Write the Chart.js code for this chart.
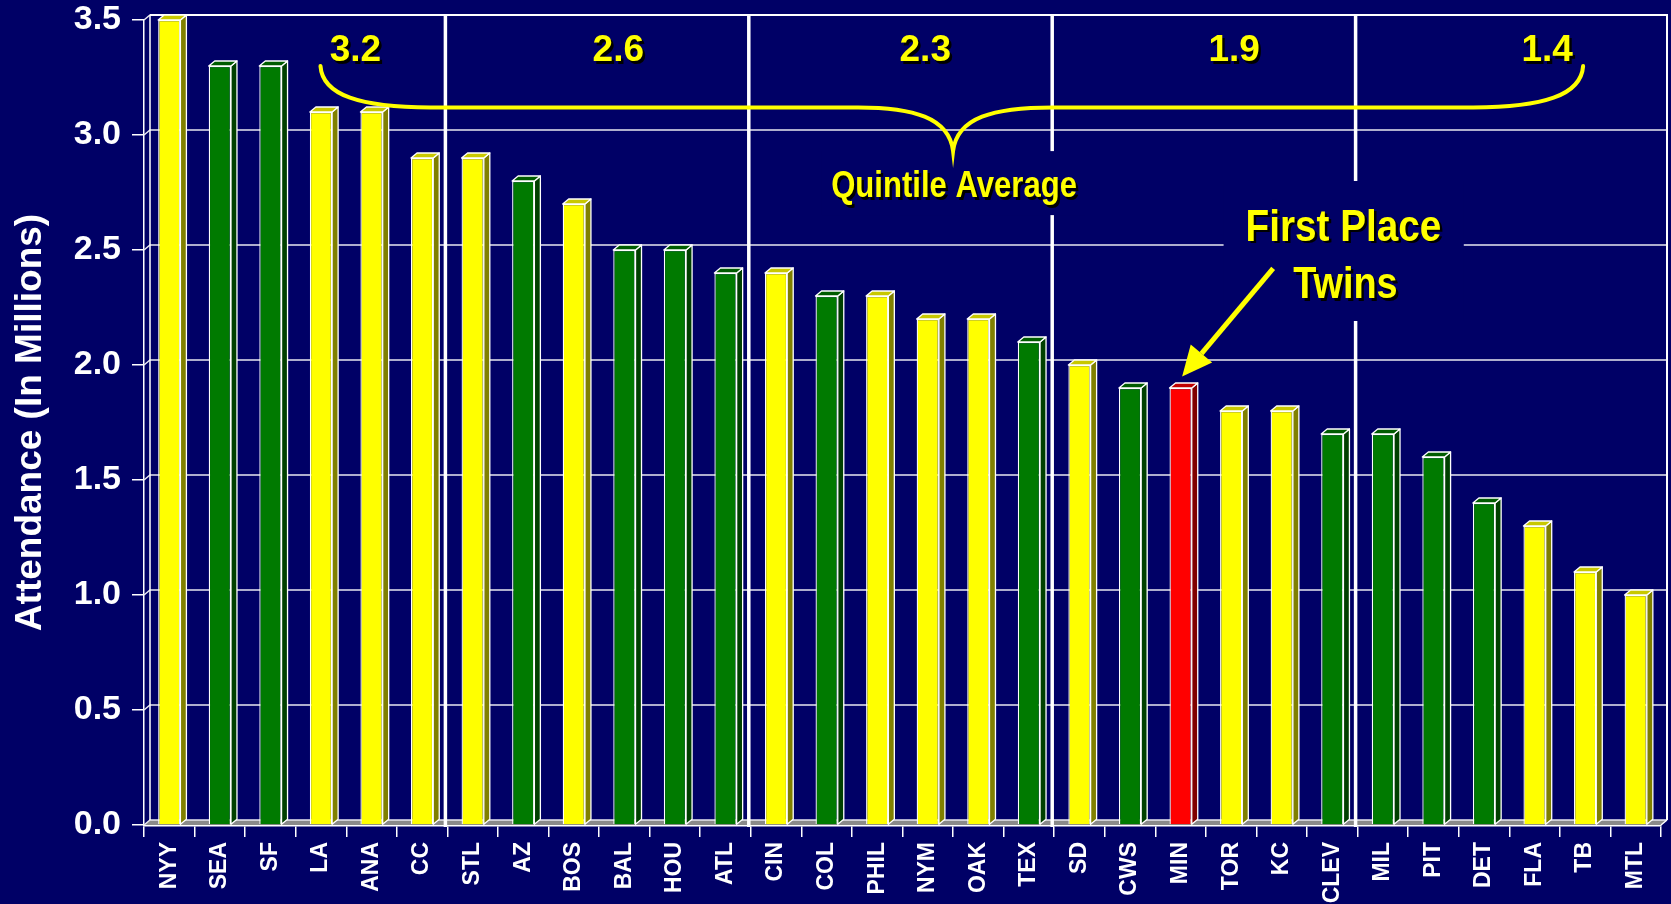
<!DOCTYPE html>
<html>
<head>
<meta charset="utf-8">
<script src="https://cdn.jsdelivr.net/npm/chart.js@4/dist/chart.umd.min.js"></script>
<style>
  html, body { margin: 0; padding: 0; background: #000066; overflow: hidden; }
</style>
</head>
<body>
<canvas id="myChart" width="1671" height="904"></canvas>
<script>
const teams = ['NYY', 'SEA', 'SF', 'LA', 'ANA', 'CC', 'STL', 'AZ', 'BOS', 'BAL',
  'HOU', 'ATL', 'CIN', 'COL', 'PHIL', 'NYM', 'OAK', 'TEX', 'SD', 'CWS',
  'MIN', 'TOR', 'KC', 'CLEV', 'MIL', 'PIT', 'DET', 'FLA', 'TB', 'MTL'];
const attendance = [3.5, 3.3, 3.3, 3.1, 3.1, 2.9, 2.9, 2.8, 2.7, 2.5,
  2.5, 2.4, 2.4, 2.3, 2.3, 2.2, 2.2, 2.1, 2.0, 1.9,
  1.9, 1.8, 1.8, 1.7, 1.7, 1.6, 1.4, 1.3, 1.1, 1.0];
const barKind = ['yellow', 'green', 'green', 'yellow', 'yellow', 'yellow', 'yellow', 'green', 'yellow', 'green',
  'green', 'green', 'yellow', 'green', 'yellow', 'yellow', 'yellow', 'green', 'yellow', 'green',
  'red', 'yellow', 'yellow', 'green', 'green', 'green', 'green', 'yellow', 'yellow', 'yellow'];
const quintileAverages = [3.2, 2.6, 2.3, 1.9, 1.4];
const yMin = 0;
const yMax = 3.5;
const yStep = 0.5;

const palette = {
  yellow: { front: '#ffff00', side: '#808000', top: '#c8c800' },
  green: { front: '#007a00', side: '#004000', top: '#005c00' },
  red: { front: '#ff0000', side: '#800000', top: '#c00000' }
};

const BG = '#000066';
const DX = 6;   // depth of back wall
const DY = 5;
const BAR_DX = 6;
const BAR_DY = 5;
const FONT = '"Liberation Sans", Arial, sans-serif';

function condensedText(ctx, text, cx, baseline, size, squeeze) {
  ctx.save();
  ctx.font = 'bold ' + size + 'px ' + FONT;
  ctx.textAlign = 'center';
  ctx.textBaseline = 'alphabetic';
  ctx.translate(cx, baseline);
  ctx.scale(squeeze, 1);
  ctx.fillStyle = '#000000';
  ctx.fillText(text, 2.5 / squeeze, 2.5);
  ctx.fillStyle = '#ffff00';
  ctx.fillText(text, 0, 0);
  ctx.restore();
}

const depthPlugin = {
  id: 'depth',
  beforeDraw(chart) {
    const ctx = chart.ctx;
    ctx.save();
    ctx.fillStyle = BG;
    ctx.fillRect(0, 0, chart.width, chart.height);
    ctx.restore();
  },
  beforeDatasetsDraw(chart) {
    const ctx = chart.ctx;
    const { left, right, top, bottom } = chart.chartArea;
    const y = chart.scales.y;
    const x = chart.scales.x;
    ctx.save();
    // floor
    ctx.fillStyle = '#8a8a8a';
    ctx.beginPath();
    ctx.moveTo(left, bottom);
    ctx.lineTo(left + DX, bottom - DY);
    ctx.lineTo(right + DX, bottom - DY);
    ctx.lineTo(right, bottom);
    ctx.closePath();
    ctx.fill();
    // back wall grid
    ctx.strokeStyle = '#e8e8f0';
    ctx.lineWidth = 1.5;
    for (let v = yMin; v <= yMax + 1e-9; v += yStep) {
      const py = y.getPixelForValue(v);
      ctx.beginPath();
      ctx.moveTo(left, py);
      ctx.lineTo(left + DX, py - DY);
      ctx.lineTo(right + DX, py - DY);
      ctx.stroke();
    }
    ctx.lineWidth = 2;
    ctx.strokeStyle = '#ffffff';
    ctx.beginPath();
    ctx.moveTo(left + DX, top - DY);
    ctx.lineTo(right + DX, top - DY);
    ctx.lineTo(right + DX, bottom - DY);
    ctx.stroke();
    ctx.lineWidth = 1.5;
    ctx.beginPath();
    ctx.moveTo(left + DX, top - DY);
    ctx.lineTo(left + DX, bottom - DY);
    ctx.moveTo(right, bottom);
    ctx.lineTo(right + DX, bottom - DY);
    ctx.stroke();
    // quintile dividers
    const w = (x.right - x.left) / teams.length;
    ctx.lineWidth = 3.5;
    ctx.strokeStyle = '#ffffff';
    for (let q = 1; q < quintileAverages.length; q++) {
      const px = x.left + q * 6 * w - 2;
      ctx.beginPath();
      ctx.moveTo(px, top - DY);
      ctx.lineTo(px, bottom + 2);
      ctx.stroke();
    }
    ctx.restore();
  },
  afterDatasetsDraw(chart) {
    const ctx = chart.ctx;
    const meta = chart.getDatasetMeta(0);
    ctx.save();
    ctx.lineWidth = 1.3;
    ctx.strokeStyle = '#ffffff';
    ctx.lineJoin = 'round';
    meta.data.forEach((bar, i) => {
      const p = bar.getProps(['x', 'y', 'base', 'width'], true);
      const x0 = p.x - p.width / 2;
      const x1 = p.x + p.width / 2;
      const c = palette[barKind[i]];
      // side
      ctx.fillStyle = c.side;
      ctx.beginPath();
      ctx.moveTo(x1, p.y);
      ctx.lineTo(x1 + BAR_DX, p.y - BAR_DY);
      ctx.lineTo(x1 + BAR_DX, p.base - BAR_DY);
      ctx.lineTo(x1, p.base);
      ctx.closePath();
      ctx.fill();
      ctx.stroke();
      // top
      ctx.fillStyle = c.top;
      ctx.beginPath();
      ctx.moveTo(x0, p.y);
      ctx.lineTo(x0 + BAR_DX, p.y - BAR_DY);
      ctx.lineTo(x1 + BAR_DX, p.y - BAR_DY);
      ctx.lineTo(x1, p.y);
      ctx.closePath();
      ctx.fill();
      ctx.stroke();
    });
    ctx.restore();
    drawAnnotations(chart);
  }
};

function drawAnnotations(chart) {
  const ctx = chart.ctx;
  const x = chart.scales.x;
  const y = chart.scales.y;
  const w = (x.right - x.left) / teams.length;
  const bx = b => x.left + b * w;

  ctx.save();
  // navy boxes that cut the grid behind the captions
  ctx.fillStyle = BG;
  ctx.fillRect(bx(13.4), y.getPixelForValue(2.93), bx(18.6) - bx(13.4), 64);
  ctx.fillRect(bx(21.35), y.getPixelForValue(2.8), bx(26.1) - bx(21.35), 140);

  // brace
  const yEnd = y.getPixelForValue(3.3);
  const yMid = y.getPixelForValue(3.12);
  const yTip = y.getPixelForValue(2.93);
  const xl = bx(3.49), xr = bx(28.46), xt = bx(16);
  ctx.strokeStyle = '#ffff00';
  ctx.lineWidth = 4;
  ctx.lineCap = 'round';
  ctx.beginPath();
  ctx.moveTo(xl, yEnd);
  ctx.bezierCurveTo(xl + 2, yMid - 12, xl + 40, yMid, xl + 110, yMid);
  ctx.lineTo(xt - 95, yMid);
  ctx.bezierCurveTo(xt - 40, yMid, xt - 4, yMid + 10, xt, yTip);
  ctx.bezierCurveTo(xt + 4, yMid + 10, xt + 40, yMid, xt + 100, yMid);
  ctx.lineTo(xr - 110, yMid);
  ctx.bezierCurveTo(xr - 40, yMid, xr - 2, yMid - 12, xr, yEnd);
  ctx.stroke();

  // quintile averages
  const labelPos = [4.18, 9.38, 15.45, 21.56, 27.75];
  quintileAverages.forEach((v, i) => {
    condensedText(ctx, v.toFixed(1), bx(labelPos[i]), y.getPixelForValue(3.32), 37, 1);
  });
  condensedText(ctx, 'Quintile Average', bx(16.02), y.getPixelForValue(2.73), 37, 0.84);
  condensedText(ctx, 'First Place', bx(23.72), y.getPixelForValue(2.54), 44, 0.88);
  condensedText(ctx, 'Twins', bx(23.76), y.getPixelForValue(2.29), 44, 0.86);

  // arrow to the Twins bar
  const ax0 = bx(22.33), ay0 = y.getPixelForValue(2.42);
  const ax1 = bx(20.53), ay1 = y.getPixelForValue(1.95);
  const ang = Math.atan2(ay1 - ay0, ax1 - ax0);
  const headLen = 30, headHalf = 14;
  const hbx = ax1 - Math.cos(ang) * headLen;
  const hby = ay1 - Math.sin(ang) * headLen;
  ctx.lineCap = 'butt';
  ctx.lineWidth = 5;
  ctx.beginPath();
  ctx.moveTo(ax0, ay0);
  ctx.lineTo(hbx, hby);
  ctx.stroke();
  ctx.fillStyle = '#ffff00';
  ctx.beginPath();
  ctx.moveTo(ax1, ay1);
  ctx.lineTo(hbx - Math.sin(ang) * headHalf, hby + Math.cos(ang) * headHalf);
  ctx.lineTo(hbx + Math.sin(ang) * headHalf, hby - Math.cos(ang) * headHalf);
  ctx.closePath();
  ctx.fill();
  ctx.restore();
}

const ctx = document.getElementById('myChart');
new Chart(ctx, {
  type: 'bar',
  data: {
    labels: teams,
    datasets: [{
      label: 'Attendance',
      data: attendance,
      backgroundColor: barKind.map(k => palette[k].front),
      borderColor: '#ffffff',
      borderWidth: 1.3,
      borderSkipped: 'start',
      categoryPercentage: 1,
      barPercentage: 0.44
    }]
  },
  options: {
    responsive: false,
    devicePixelRatio: 1,
    animation: false,
    layout: { padding: { top: 20, right: 10, left: 0, bottom: 0 } },
    plugins: {
      legend: { display: false },
      tooltip: { enabled: false }
    },
    scales: {
      x: {
        afterFit(scale) {
          scale.height = 79;
          scale.paddingLeft = 0;
          scale.paddingRight = 0;
        },
        grid: { drawOnChartArea: false, drawTicks: true, tickLength: 12, color: '#ffffff', lineWidth: 1.5, offset: true },
        border: { display: true, color: '#ffffff', width: 2.5 },
        ticks: {
          color: '#ffffff',
          autoSkip: false,
          maxRotation: 90,
          minRotation: 90,
          padding: 5,
          font: { family: FONT, size: 23, weight: 'bold' }
        }
      },
      y: {
        min: yMin,
        max: yMax,
        afterFit(scale) {
          scale.width = 144;
          scale.paddingTop = 0;
          scale.paddingBottom = 0;
        },
        grid: { drawOnChartArea: false, drawTicks: true, tickLength: 12, color: '#ffffff', lineWidth: 1.5 },
        border: { display: true, color: '#ffffff', width: 1.5 },
        ticks: {
          stepSize: yStep,
          color: '#ffffff',
          padding: 11,
          font: { family: FONT, size: 34, weight: 'bold' },
          callback: v => v.toFixed(1)
        },
        title: {
          display: true,
          text: 'Attendance (In Millions)',
          color: '#ffffff',
          padding: { top: 12, bottom: 0 },
          font: { family: FONT, size: 37, weight: 'bold', lineHeight: 1 }
        }
      }
    }
  },
  plugins: [depthPlugin]
});
</script>
</body>
</html>
